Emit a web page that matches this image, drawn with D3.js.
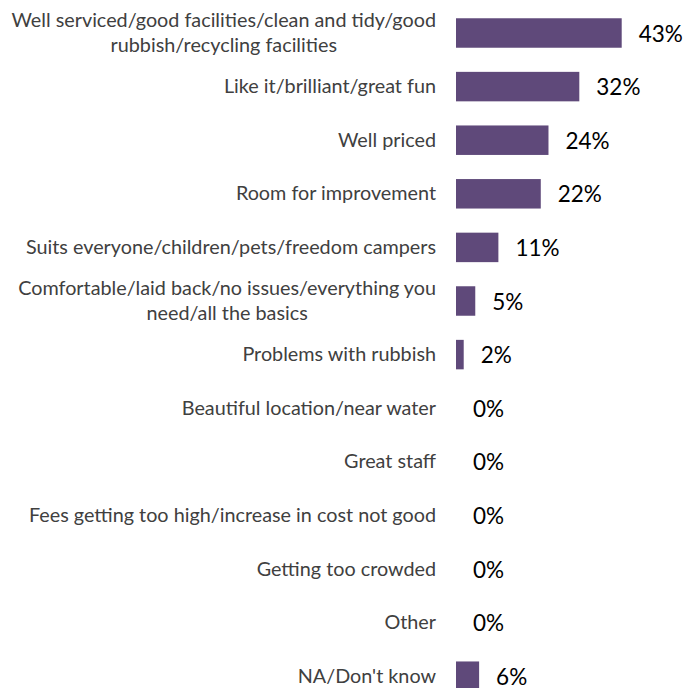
<!DOCTYPE html>
<html>
<head>
<meta charset="utf-8">
<script src="https://cdn.jsdelivr.net/npm/d3@7"></script>
<style>
  html, body { margin: 0; padding: 0; background: #fff; }
  svg { display: block; }
</style>
</head>
<body>
<svg id="chart" width="687" height="688"></svg>
<script>
// Survey responses: share of mentions per theme
const categories = [
  ["Well serviced/good facilities/clean and tidy/good", "rubbish/recycling facilities"],
  ["Like it/brilliant/great fun"],
  ["Well priced"],
  ["Room for improvement"],
  ["Suits everyone/children/pets/freedom campers"],
  ["Comfortable/laid back/no issues/everything you", "need/all the basics"],
  ["Problems with rubbish"],
  ["Beautiful location/near water"],
  ["Great staff"],
  ["Fees getting too high/increase in cost not good"],
  ["Getting too crowded"],
  ["Other"],
  ["NA/Don't know"]
];
const values = [43, 32, 24, 22, 11, 5, 2, 0, 0, 0, 0, 0, 6];
const valueLabels = values.map(v => v + "%");

const svg = d3.select("#chart");
const font = "Lato, 'Open Sans', sans-serif";

const x = d3.scaleLinear().domain([0, 43]).range([456, 621.7]);
const y = d3.scaleBand()
  .domain(d3.range(values.length))
  .range([6.2, 703])
  .paddingInner(0.45)
  .paddingOuter(0.225);

// bars
svg.append("g")
  .selectAll("rect")
  .data(values)
  .join("rect")
  .attr("x", x(0))
  .attr("y", (d, i) => y(i))
  .attr("width", d => x(d) - x(0))
  .attr("height", y.bandwidth())
  .attr("fill", "#5F497A");

// value labels
svg.append("g")
  .selectAll("text")
  .data(values)
  .join("text")
  .attr("x", d => x(d) + 17)
  .attr("y", (d, i) => y(i) + y.bandwidth() / 2 + 8.5)
  .attr("font-family", font)
  .attr("font-size", 22.5)
  .attr("fill", "#000")
  .text((d, i) => valueLabels[i]);

// category labels, multi-line labels centred on their widest line
const labelRight = 436;
const lineGap = 25;
const cat = svg.append("g")
  .selectAll("g")
  .data(categories)
  .join("g")
  .attr("font-family", font)
  .attr("font-size", 19.8)
  .attr("fill", "#404040");

cat.each(function (lines, i) {
  const g = d3.select(this);
  const cy = y(i) + y.bandwidth() / 2;
  const n = lines.length;
  const texts = lines.map((t, k) =>
    g.append("text")
      .attr("y", cy + 6.5 + (k - (n - 1) / 2) * lineGap)
      .text(t)
  );
  const widths = texts.map(t => t.node().getComputedTextLength());
  const maxW = d3.max(widths);
  const centre = labelRight - maxW / 2;
  texts.forEach(t => t.attr("x", centre).attr("text-anchor", "middle"));
});
</script>
</body>
</html>
